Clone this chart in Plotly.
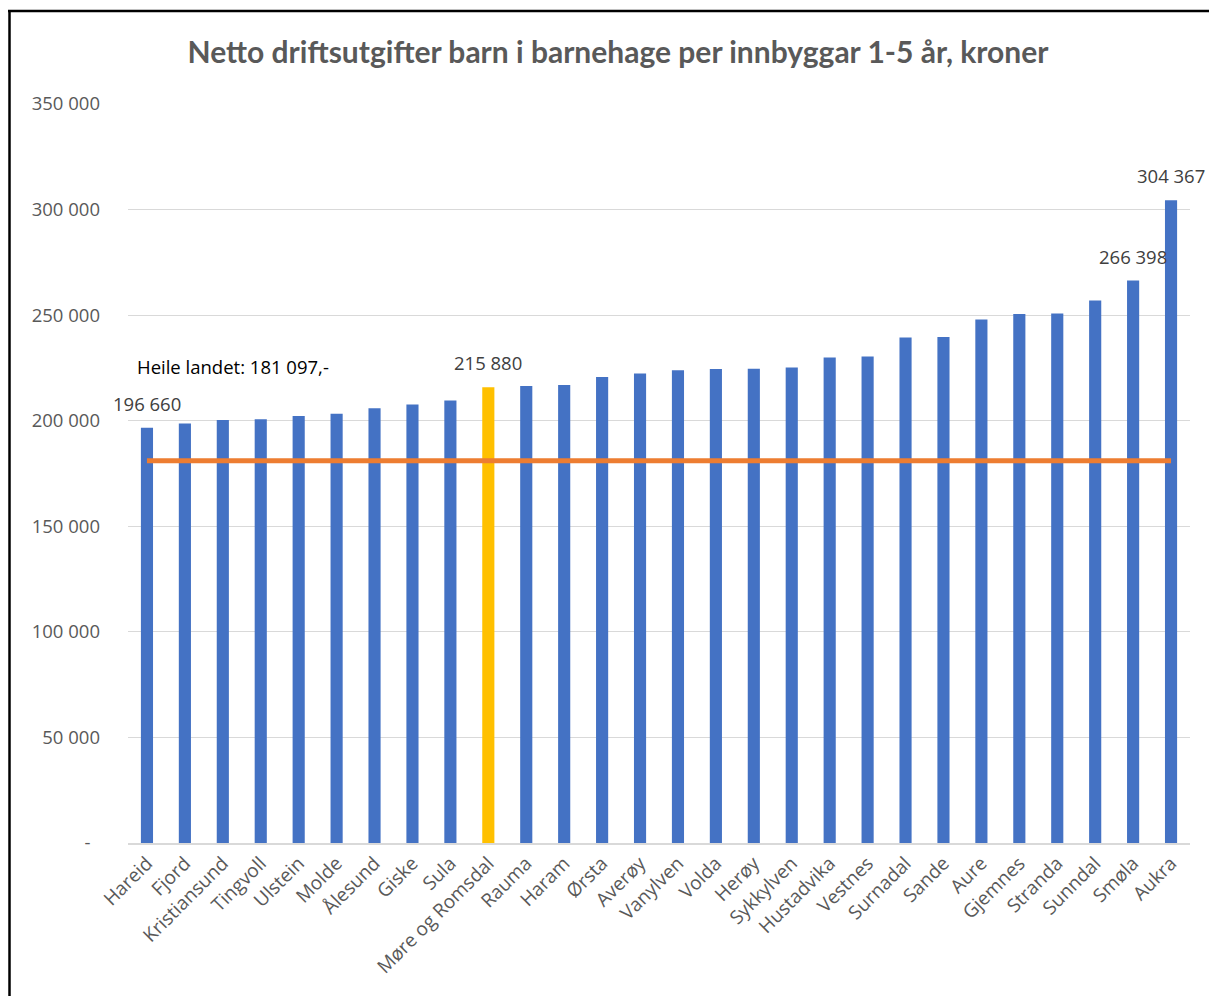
import plotly.graph_objects as go

categories = ["Hareid", "Fjord", "Kristiansund", "Tingvoll", "Ulstein", "Molde", "Ålesund",
              "Giske", "Sula", "Møre og Romsdal", "Rauma", "Haram", "Ørsta", "Averøy",
              "Vanylven", "Volda", "Herøy", "Sykkylven", "Hustadvika", "Vestnes", "Surnadal",
              "Sande", "Aure", "Gjemnes", "Stranda", "Sunndal", "Smøla", "Aukra"]
values = [196660, 198700, 200300, 200750, 202200, 203300, 205950,
          207700, 209600, 215880, 216400, 216900, 220650, 222400,
          223950, 224450, 224600, 225200, 229900, 230400, 239400,
          239700, 247950, 250600, 250800, 256950, 266398, 304367]
labelled = ["Hareid", "Møre og Romsdal", "Smøla", "Aukra"]
highlight = "Møre og Romsdal"
national = 181097
national_label = "Heile landet: 181 097,-"
ytickvals = [0, 50000, 100000, 150000, 200000, 250000, 300000, 350000]
yticktext = ["-&nbsp;&nbsp;", "50 000", "100 000", "150 000", "200 000", "250 000", "300 000", "350 000"]
title = "Netto driftsutgifter barn i barnehage per innbyggar 1-5 år, kroner"

def fmt(v):
    return f"{v:,}".replace(",", " ")

bar_colors = ["#FFC000" if c == highlight else "#4472C4" for c in categories]

FONT = "Open Sans"
FS = 18.5
fig = go.Figure()
fig.add_trace(go.Bar(
    x=categories, y=values, marker=dict(color=bar_colors, line=dict(width=0)),
    hoverinfo="x+y", showlegend=False))
fig.add_trace(go.Scatter(
    x=categories, y=[national] * len(categories), mode="lines",
    line=dict(color="#ED7D31", width=5), showlegend=False, hoverinfo="skip"))

for c, v in zip(categories, values):
    if c in labelled:
        fig.add_annotation(x=c, y=v, xref="x", yref="y", text=fmt(v), showarrow=False,
                           xanchor="center", yanchor="middle", yshift=24.5,
                           font=dict(family=FONT, size=FS, color="#404040"))

fig.add_annotation(x=categories[0], y=national, xref="x", yref="y",
                   text=national_label, showarrow=False, xanchor="left", yanchor="bottom",
                   xshift=-12, yshift=80,
                   font=dict(family=FONT, size=FS, color="#000000"))

W, H = 1209, 996
L, T = 128, 104
R = W - 1190
B = H - 843
pw, ph = W - L - R, H - T - B
def px(x): return (x - L) / pw
def py(y): return (H - B - y) / ph

fig.add_shape(type="line", xref="paper", yref="paper", x0=px(9.5), x1=px(9.5),
              y0=py(H + 20), y1=py(12), line=dict(color="black", width=2.5))
fig.add_shape(type="line", xref="paper", yref="paper", x0=px(8), x1=px(W + 5),
              y0=py(12), y1=py(12), line=dict(color="black", width=2.5))

fig.update_layout(
    width=W, height=H,
    margin=dict(l=L, r=R, t=T - 1, b=B),
    paper_bgcolor="white", plot_bgcolor="white",
    bargap=0.68,
    title=dict(text=f"<b>{title}</b>", x=618 / W, xref="container", xanchor="center",
               y=1 - 52 / H, yanchor="middle",
               font=dict(family="Lato", size=30, color="#595959")),
    font=dict(family=FONT, color="#595959"),
    xaxis=dict(range=[-0.5, len(categories) - 0.5], autorange=False,
               tickangle=-45, tickfont=dict(family=FONT, size=FS + 0.5, color="#595959"),
               showgrid=False, showline=True, linecolor="#D9D9D9", linewidth=1.5,
               ticks=""),
    yaxis=dict(range=[0, 350000 * (1 + 1 / 739)], autorange=False,
               tickvals=ytickvals, ticktext=yticktext,
               tickfont=dict(family=FONT, size=FS, color="#595959"),
               showgrid=True, gridcolor="#D9D9D9", gridwidth=1, zeroline=False,
               ticks="", ticklabelstandoff=27),
)
fig.write_html("out.html", config={"displayModeBar": False},
               post_script="document.body.style.margin='0';document.body.style.overflow='hidden';")
